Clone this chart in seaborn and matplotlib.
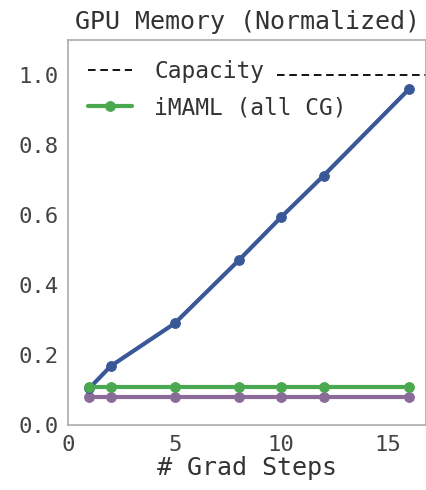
import matplotlib
matplotlib.use("Agg")
import matplotlib.pyplot as plt
import seaborn as sns

# values
grad_steps = [1, 2, 5, 8, 10, 12, 16]
mem_blue = [0.105, 0.168, 0.29, 0.47, 0.594, 0.713, 0.96]
mem_imaml = [0.108, 0.108, 0.108, 0.108, 0.108, 0.108, 0.108]
mem_purple = [0.08, 0.08, 0.08, 0.08, 0.08, 0.08, 0.08]
capacity_x = [9.8, 17.5]
capacity_y = [1.0, 1.0]

sns.set_style("white")
plt.rcParams['font.family'] = ['DejaVu Sans Mono']

fig = plt.figure(figsize=(4.26, 4.90), dpi=100)
ax = fig.add_axes([0.16, 0.133, 0.84, 0.785])

blue = "#3a5898"
green = "#4aa84e"
purple = "#8a6a98"

sns.lineplot(x=capacity_x, y=capacity_y, ax=ax, color="black", lw=1.3,
             linestyle=(0, (4.2, 2.6)), zorder=1)
sns.lineplot(x=grad_steps, y=mem_purple, ax=ax, color=purple, lw=3,
             marker="o", markersize=7, markeredgecolor=purple, zorder=2)
sns.lineplot(x=grad_steps, y=mem_blue, ax=ax, color=blue, lw=3,
             marker="o", markersize=7, markeredgecolor=blue, zorder=3)
sns.lineplot(x=grad_steps, y=mem_imaml, ax=ax, color=green, lw=3,
             marker="o", markersize=7, markeredgecolor=green, zorder=4)

lines = ax.get_lines()
leg = ax.legend([lines[0], lines[3]], ["Capacity", "iMAML (all CG)"],
                loc="upper left", fontsize=16.5, frameon=False,
                handlelength=1.95, handletextpad=0.95,
                borderaxespad=0.45, labelspacing=0.6)
for t in leg.get_texts():
    t.set_color("#333333")

ax.set_xlim(0, 16.8)
ax.set_ylim(0, 1.1)
ax.set_xticks([0, 5, 10, 15])
ax.set_yticks([0.0, 0.2, 0.4, 0.6, 0.8, 1.0])
ax.set_yticklabels(["0.0", "0.2", "0.4", "0.6", "0.8", "1.0"])
ax.tick_params(labelsize=16, colors="#444444", length=0, pad=7)
ax.set_xlabel("# Grad Steps", fontsize=18, color="#333333", labelpad=1)
ax.set_title("GPU Memory (Normalized)", fontsize=18, color="#333333", pad=8)
for s in ax.spines.values():
    s.set_color("#aaaaaa")
    s.set_linewidth(1.2)

plt.savefig("out.png", dpi=100)
